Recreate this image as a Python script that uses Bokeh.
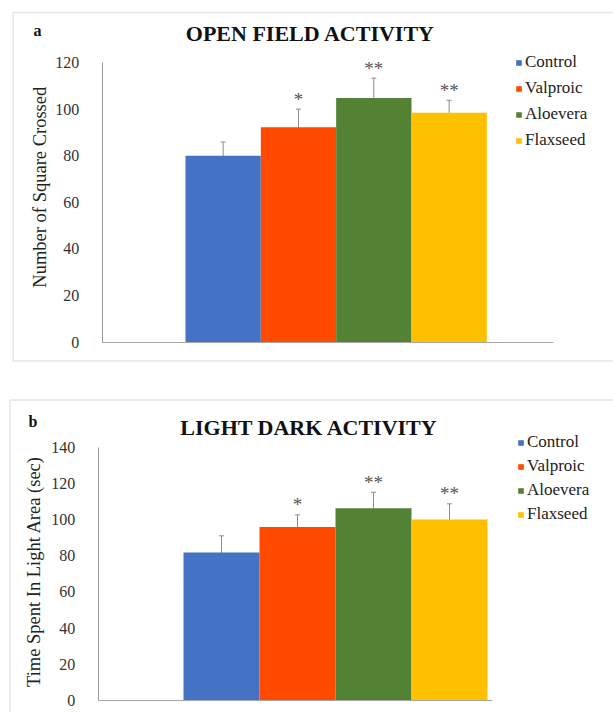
import math
from bokeh.plotting import figure
from bokeh.models import (ColumnDataSource, Range1d, Whisker, TeeHead, Label,
                          FixedTicker, BoxAnnotation)
from bokeh.layouts import column
from bokeh.core.properties import value
from bokeh.embed import file_html
from bokeh.resources import INLINE

# ---- data ----
groups = ["Control", "Valproic", "Aloevera", "Flaxseed"]
colors = ["#4472C4", "#FF4A00", "#548235", "#FFC000"]
significance = ["", "*", "**", "**"]

open_field_mean = [80.0, 92.2, 104.8, 98.4]
open_field_err = [5.9, 7.8, 8.5, 5.4]
open_field_ticks = [0, 20, 40, 60, 80, 100, 120]

light_dark_mean = [81.8, 95.9, 106.3, 100.1]
light_dark_err = [9.2, 6.7, 8.8, 8.6]
light_dark_ticks = [0, 20, 40, 60, 80, 100, 120, 140]

SERIF = "Liberation Serif"
SERIF_LIST = "'Liberation Serif', 'Times New Roman', serif"
W = 613


def make_panel(title, letter, ylabel, means, errs, ticks, g):
    H = g["H"]
    top = g["top"]
    # layout helpers: page pixel -> data coordinate (layout only)
    X = lambda px: -0.5 + (px - g["bar_left"]) / g["bar_w"]
    Y = lambda py: (g["y0"] - py) * ticks[-1] / (g["y0"] - g["ytop"])

    p = figure(width=W, height=H,
               x_range=Range1d(X(0), X(W)),
               y_range=Range1d(Y(top + H), Y(top)),
               output_backend="svg", toolbar_location=None,
               min_border=0)
    p.outline_line_color = None
    p.xgrid.visible = False
    p.ygrid.visible = False

    # panel border
    bl, bt, br, bb = g["box"]
    p.add_layout(BoxAnnotation(left=X(bl), right=X(br), top=Y(bt), bottom=Y(bb),
                               fill_alpha=0, line_color="#a8a8a8", line_width=1.5,
                               level="underlay"))

    src = ColumnDataSource(dict(
        x=list(range(len(groups))), group=groups, mean=means, color=colors,
        sig=significance,
        upper=[m + e for m, e in zip(means, errs)],
        lower=[m - e for m, e in zip(means, errs)],
    ))
    p.vbar(x="x", top="mean", width=1.0, fill_color="color", line_color=None,
           legend_field="group", source=src)

    wh = Whisker(base="x", upper="upper", lower="lower", source=src,
                 line_color="#8c8c8c", line_width=1,
                 upper_head=TeeHead(size=5, line_color="#8c8c8c", line_width=1),
                 lower_head=TeeHead(size=5, line_color="#8c8c8c", line_width=1))
    p.add_layout(wh)

    p.text(x="x", y="upper", text="sig", source=src,
           text_font=value(SERIF), text_font_size="19px",
           text_align="center", text_baseline="middle", y_offset=-10,
           text_color="#555555")

    # axes
    xa_start = X(g["yaxis"])
    ya = p.yaxis[0]
    ya.fixed_location = xa_start
    ya.bounds = (ticks[0], ticks[-1])
    ya.ticker = FixedTicker(ticks=ticks)
    ya.major_tick_line_color = None
    ya.minor_tick_line_color = None
    ya.axis_line_color = "#9a9a9a"
    ya.major_label_standoff = 17
    ya.major_label_text_font = SERIF_LIST
    ya.major_label_text_font_size = "16px"
    ya.major_label_text_color = "#333333"

    xa = p.xaxis[0]
    xa.fixed_location = 0
    xa.bounds = (xa_start, X(g["xend"]))
    xa.ticker = FixedTicker(ticks=[])
    xa.major_tick_line_color = None
    xa.minor_tick_line_color = None
    xa.major_label_text_font_size = "0px"
    xa.axis_line_color = "#a6a6a6"

    # y-axis title
    p.add_layout(Label(x=X(g["ylab"][0]), y=Y(g["ylab"][1]), text=ylabel,
                       angle=math.pi / 2, text_font=SERIF, text_font_size="18.5px",
                       text_align="center", text_baseline="middle",
                       text_color="#222222"))

    # legend
    lg = p.legend[0]
    lg.location = (g["legend"][0], top + H - g["legend"][1])
    lg.border_line_color = None
    lg.background_fill_alpha = 0
    lg.padding = 0
    lg.margin = 0
    lg.spacing = g["lspacing"]
    lg.glyph_width = 7
    lg.glyph_height = 7
    lg.label_height = g["lheight"]
    lg.label_standoff = 3
    lg.label_text_font = SERIF_LIST
    lg.label_text_font_size = "17px"
    lg.label_text_color = "#222222"

    p.add_layout(Label(x=X(g["title"][0]), y=Y(g["title"][1]), text=title,
                       text_font=SERIF, text_font_size="22px", text_font_style="bold",
                       text_align="center", text_baseline="middle",
                       text_color="#111111"))
    p.add_layout(Label(x=X(g["letter"][0]), y=Y(g["letter"][1]), text=letter,
                       text_font=SERIF, text_font_size="16px", text_font_style="bold",
                       text_align="left", text_baseline="alphabetic",
                       text_color="#111111"))
    return p


geom_a = dict(top=0, H=380, bar_left=185, bar_w=75.33, y0=341.7, ytop=62,
              yaxis=101.7, xend=553, box=(12.7, 12, 700, 360.5),
              title=(310, 33), letter=(33, 30), ylab=(39, 186.7),
              legend=(515, 150), lspacing=6, lheight=20)
geom_b = dict(top=380, H=332, bar_left=183, bar_w=76.0, y0=700, ytop=446.7,
              yaxis=97.7, xend=492, box=(9.5, 399.5, 700, 760),
              title=(308.8, 427), letter=(28, 421), ylab=(33, 571),
              legend=(517, 524), lspacing=4, lheight=18)

pa = make_panel("OPEN FIELD ACTIVITY", "a", "Number of Square Crossed",
                open_field_mean, open_field_err, open_field_ticks, geom_a)
pb = make_panel("LIGHT DARK ACTIVITY", "b", "Time Spent In Light Area (sec)",
                light_dark_mean, light_dark_err, light_dark_ticks, geom_b)

layout = column(pa, pb, spacing=0)

with open("out.html", "w") as f:
    f.write(file_html(layout, INLINE))
